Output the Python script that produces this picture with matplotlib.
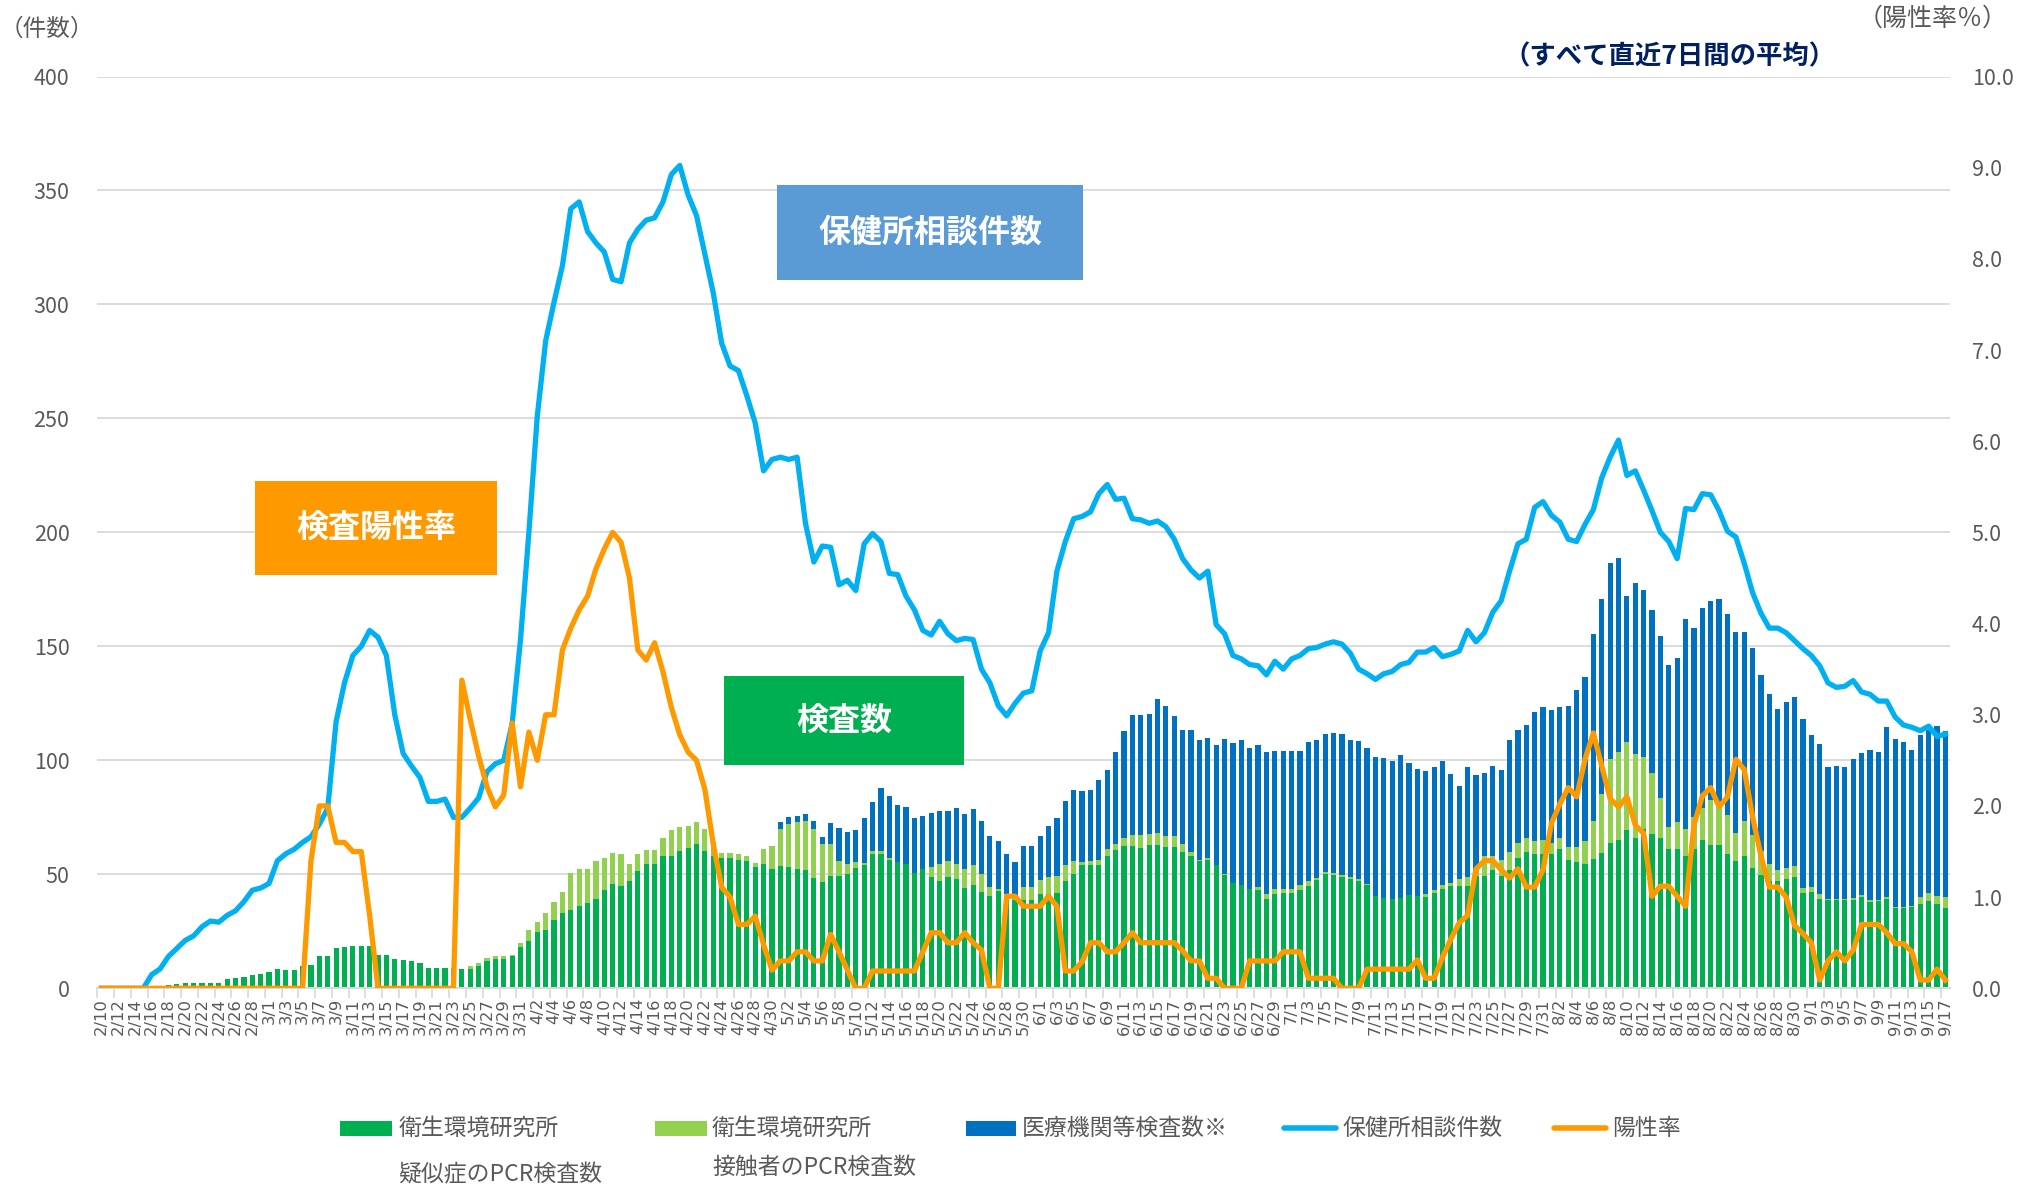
import numpy as np
import pandas as pd
import matplotlib
matplotlib.use("Agg")
import matplotlib.pyplot as plt
from matplotlib.patches import Rectangle
from matplotlib.lines import Line2D

plt.rcParams['font.family'] = ['Noto Sans CJK JP', 'DejaVu Sans']

# ---------------- data ----------------
dates = pd.date_range("2020-02-10", "2020-09-17", freq="D")
date_labels = [f"{d.month}/{d.day}" for d in dates]

# 保健所相談件数 (left axis)
consult = [
    0, 0, 0, 0, 0, 0, 6, 8.5, 14, 17.5,
    21, 23, 27, 29.5, 29, 32, 34, 38, 43, 44,
    46, 56, 59, 61, 64, 66.5, 72, 79, 117, 134,
    146, 150, 157, 154, 146, 120, 103, 97.5, 92.5, 82,
    82, 83, 75, 75, 79, 83.5, 95, 98.5, 100, 116,
    153, 200, 251, 284, 301, 317, 342, 345, 332, 327,
    323, 311, 310, 327, 333, 337, 338, 345, 357, 361,
    348, 339, 322, 305, 283, 273, 271, 260, 248, 227,
    232, 233, 232, 233, 204, 187, 194, 193.5, 177, 179,
    174.5, 195, 199.5, 196, 182, 181.5, 172, 166, 157, 155,
    161, 155.5, 152.5, 153.5, 153, 140, 134, 124, 119.5, 125,
    129.5, 130.5, 148, 156, 183, 196, 206, 207, 209, 217,
    221, 214.5, 215, 206, 205.5, 204, 205, 202.5, 197, 188.5,
    183.5, 180, 183, 159.5, 155.5, 146, 144.5, 142, 141.5, 137.5,
    143.5, 140, 144.5, 146, 149, 149.5, 151, 152, 151, 147,
    140, 138, 135.5, 138, 139, 142, 143, 147.5, 147.5, 149.5,
    145.5, 146.5, 148, 157, 152, 156, 165, 170, 183, 195,
    197, 211, 213.5, 207.5, 204.5, 197, 196, 203.5, 210, 224,
    233, 240.5, 225, 227, 218.5, 209.5, 200, 196, 188.5, 210.5,
    210, 217, 216.5, 209.5, 200.5, 198, 186.5, 173.5, 164.5, 158,
    158, 156, 152.5, 149, 146, 141.5, 134, 132, 132.5, 135,
    130, 129, 126, 126, 119, 115.5, 114.5, 113, 115, 110.5,
    111.5,
]

# 陽性率 (%) (right axis)
positive = [
    0, 0, 0, 0, 0, 0, 0, 0, 0, 0,
    0, 0, 0, 0, 0, 0, 0, 0, 0, 0,
    0, 0, 0, 0, 0, 1.4, 2.0, 2.0, 1.6, 1.6,
    1.5, 1.5, 0.8, 0, 0, 0, 0, 0, 0, 0,
    0, 0, 0, 3.38, 2.95, 2.55, 2.21, 1.99, 2.12, 2.91,
    2.21, 2.81, 2.5, 3.0, 3.0, 3.71, 3.95, 4.15, 4.3, 4.6,
    4.82, 5.0, 4.89, 4.5, 3.71, 3.6, 3.79, 3.47, 3.08, 2.78,
    2.59, 2.5, 2.18, 1.58, 1.11, 1.0, 0.7, 0.7, 0.79, 0.48,
    0.2, 0.3, 0.3, 0.4, 0.4, 0.3, 0.3, 0.59, 0.4, 0.2,
    0, 0, 0.19, 0.19, 0.19, 0.19, 0.19, 0.19, 0.4, 0.61,
    0.61, 0.5, 0.5, 0.61, 0.5, 0.42, 0, 0, 1.01, 1.01,
    0.9, 0.9, 0.9, 1.01, 0.9, 0.19, 0.19, 0.29, 0.5, 0.5,
    0.4, 0.4, 0.5, 0.61, 0.5, 0.5, 0.5, 0.5, 0.5, 0.41,
    0.3, 0.3, 0.11, 0.11, 0, 0, 0, 0.3, 0.3, 0.3,
    0.3, 0.4, 0.4, 0.4, 0.11, 0.11, 0.11, 0.11, 0, 0,
    0, 0.21, 0.21, 0.21, 0.21, 0.21, 0.21, 0.31, 0.11, 0.11,
    0.34, 0.54, 0.72, 0.8, 1.31, 1.4, 1.4, 1.3, 1.21, 1.31,
    1.11, 1.11, 1.3, 1.81, 2.02, 2.2, 2.1, 2.51, 2.8, 2.44,
    2.08, 1.99, 2.1, 1.79, 1.7, 1.01, 1.12, 1.12, 1.01, 0.9,
    1.79, 2.11, 2.2, 1.99, 2.1, 2.51, 2.4, 1.88, 1.45, 1.11,
    1.11, 1.0, 0.69, 0.6, 0.5, 0.09, 0.3, 0.4, 0.3, 0.42,
    0.7, 0.7, 0.7, 0.61, 0.49, 0.49, 0.4, 0.09, 0.09, 0.21,
    0.09,
]

# 衛生環境研究所 疑似症のPCR検査数
suspect_pcr = [
    0, 0, 0, 0, 0, 0, 0, 0.5, 1.3, 2,
    2.2, 2.5, 2.5, 2.5, 2.2, 3.9, 4.7, 5, 5.9, 6.4,
    7, 8.4, 8, 7.9, 9.6, 10.4, 14, 14.3, 17.7, 18,
    18.5, 18.5, 18.5, 14.8, 14.8, 13, 12.6, 12.1, 11.3, 9.1,
    9.1, 9.1, 9.0, 8.3, 8.3, 9.8, 12, 12.9, 12.9, 14.1,
    17.9, 20.9, 24.7, 25.5, 29.8, 33, 34.3, 36, 37.6, 39.3,
    43, 45.6, 44.9, 46.9, 51.4, 54.5, 54.5, 58.2, 58.2, 60.3,
    61.5, 63.3, 60.3, 58.2, 57, 57, 56.5, 55.7, 53.2, 54.5,
    52.4, 53.7, 53.2, 52.5, 51.9, 48.3, 46.8, 49.3, 49.2, 50,
    52.7, 53.9, 58.9, 58.9, 56.4, 55.6, 54.7, 50.5, 52.2, 48.8,
    47.1, 48.8, 48, 43.8, 45.5, 42.1, 40.4, 42.9, 40.4, 38.7,
    38.7, 38.7, 41.2, 41.2, 42, 47.1, 50, 54.2, 53.9, 53.9,
    58.1, 60.6, 62.3, 62.3, 61.4, 62.7, 62.7, 61.8, 61.8, 60,
    58.2, 55.9, 56.5, 54.1, 49.8, 46.1, 45.3, 43.4, 43, 39,
    41.2, 41.6, 41.6, 43, 44.8, 47.5, 50.2, 49.8, 48.9, 48,
    47, 45.2, 40.7, 39.8, 39, 39.4, 40.9, 40.3, 40, 41.6,
    43.5, 44.8, 44.8, 44.8, 49.3, 49.3, 52, 49.3, 52, 57,
    60, 58.8, 59.1, 59.1, 60.9, 56.5, 55.2, 54.7, 56.8, 59.5,
    63.6, 64.9, 69.5, 66, 69.9, 67.6, 65.8, 61.3, 60.9, 58.2,
    61, 65, 63, 62.7, 59.1, 55.9, 58.2, 52.8, 49.6, 47.2,
    47.2, 47.8, 49, 42, 42.4, 39.2, 38.8, 38.8, 38.8, 38.6,
    40.2, 37.9, 38.2, 39.1, 35.3, 35.2, 35.6, 36.8, 38.3, 37.1,
    35.3,
]

# 衛生環境研究所 接触者のPCR検査数
contact_pcr = [0] * 44 + [
    1.3, 1.2, 1.4, 1.2, 1.2, 0.5,
    1.8, 4.6, 4.5, 7.5, 8.2, 9.4, 16.4, 16.4, 14.8, 16.4,
    14, 13.9, 13.8, 7.6, 7.3, 6.3, 6.3, 7.6, 11.4, 10.6,
    9.9, 9.6, 9.8, 5.8, 2.5, 2.5, 2.5, 2.5, 1.8, 6.8,
    10.1, 16.3, 18.8, 20.4, 21.3, 21.6, 16.3, 14.2, 6.7, 4.5,
    2.9, 1.1, 1.2, 1.2, 0.8, 0, 0, 0, 0, 4.2,
    7.6, 7.1, 6.7, 8.4, 8.4, 8.1, 4.2, 0.5, 1.0, 1.5,
    5.9, 5.9, 6.3, 7.6, 7.2, 6.8, 5.9, 1.4, 2, 2.5,
    2.8, 2.5, 3.7, 5, 5.9, 4.9, 5.4, 4.9, 4.9, 3.3,
    1.5, 0.6, 0.8, 0, 0.4, 0, 0, 0, 1.4, 2.2,
    2.3, 1.9, 1.9, 2.2, 2.2, 0.9, 0.9, 0.7, 0.7, 0.7,
    1, 0.5, 0, 0, 0, 0, 0, 0, 1.2, 1.4,
    1.7, 1.2, 3.2, 3.9, 2.7, 8.9, 6.2, 7.2, 8, 6.6,
    6, 5.7, 5.8, 4.5, 5.1, 5.3, 6.6, 9.8, 16.7, 25.6,
    37.1, 38.7, 38.4, 37, 31.7, 27, 17.5, 9.5, 12.2, 11.7,
    14.3, 13.9, 19.4, 17, 17.1, 12.2, 15.3, 14.5, 10.8, 7.4,
    4.9, 4.8, 4.6, 2, 2, 2, 0.4, 0.4, 0.5, 0.8,
    0.7, 0.7, 0.4, 1.1, 0.3, 0.4, 0.5, 3.4, 3.7, 3.4,
    4.9,
]

# 医療機関等検査数※
medical = [0] * 81 + [
    2.9, 3, 2.8, 3.4, 3.3, 3.1, 9.2, 14.5, 13.9,
    13.8, 19.9, 21.5, 27.8, 27, 24.7, 24.8, 24.4, 23.6, 23.9,
    23.1, 22, 24.4, 24.4, 24.7, 23, 22.2, 21.4, 17.5, 15.4,
    18, 18, 19.5, 22.2, 25.7, 28.3, 31.3, 31.1, 31.1, 34.8,
    34.7, 40.4, 46.8, 52.6, 52.5, 52.6, 58.8, 57, 52.8, 50.1,
    53.7, 52.5, 52.4, 52.5, 59.1, 61.4, 63.7, 62, 62.2, 62.4,
    60.4, 60.4, 60.8, 59.1, 60.9, 60.6, 60.5, 61.5, 62, 60.3,
    60.4, 59.5, 60.9, 61.1, 60.8, 63.1, 58, 55.9, 54.3, 54.1,
    54.6, 48.1, 40.7, 48.6, 41.5, 36.4, 39.5, 39.4, 49, 49.7,
    49.6, 56.5, 58.4, 58.3, 57.3, 62.2, 69, 72.2, 82.1, 85.5,
    86, 85.1, 64.1, 75, 73.1, 71.5, 71.2, 71.1, 71.7, 92.3,
    82.9, 88.1, 87.3, 91.1, 88.1, 88.2, 82.8, 82.2, 77, 74.3,
    70.3, 73, 74.4, 74, 66.8, 65.9, 57.8, 58.5, 57.7, 61.4,
    62.4, 65.9, 64.9, 74.5, 73.9, 72.3, 68.4, 70.8, 71.2, 74.7,
    72.7,
]

series_names = ["衛生環境研究所", "衛生環境研究所", "医療機関等検査数※", "保健所相談件数", "陽性率"]
series_sub = ["疑似症のPCR検査数", "接触者のPCR検査数"]

# ---------------- style ----------------
C_DARK = "#00b050"
C_LIGHT = "#92d050"
C_MED = "#0070c0"
C_CONS = "#00b0f0"
C_POS = "#ff9900"
GRAY = "#595959"
GRID = "#d9d9d9"

fig = plt.figure(figsize=(20.34, 11.88), dpi=100)
ax = fig.add_axes([0.0478, 0.1681, 0.9107, 0.7675])
ax2 = ax.twinx()

x = np.arange(len(dates))
s = np.array(suspect_pcr)
c = np.array(contact_pcr)
m = np.array(medical)

w = 0.62
ax.bar(x, s, width=w, color=C_DARK, zorder=2)
ax.bar(x, c, width=w, bottom=s, color=C_LIGHT, zorder=2)
ax.bar(x, m, width=w, bottom=s + c, color=C_MED, zorder=2)
ax.plot(x, consult, color=C_CONS, lw=3.8, solid_joinstyle="round", zorder=3)
ax2.plot(x, positive, color=C_POS, lw=3.8, solid_joinstyle="round", zorder=3)

ax.set_xlim(-0.5, len(dates) - 0.5)
ax.set_ylim(0, 400)
ax2.set_ylim(0, 10)

ax.set_yticks(np.arange(0, 401, 50))
ax.set_yticklabels([f"{v}" for v in range(0, 401, 50)])
ax2.set_yticks(np.arange(0, 10.1, 1))
ax2.set_yticklabels([f"{v:.1f}" for v in np.arange(0, 10.1, 1)])
ax.tick_params(axis="y", length=0, pad=20, labelsize=15.5, labelcolor=GRAY)
ax2.tick_params(axis="y", length=0, pad=16, labelsize=15.5, labelcolor=GRAY)

ax.set_xticks(x[::2])
ax.set_xticklabels(date_labels[::2], rotation=90, fontsize=11.8, color=GRAY,
                   family="DejaVu Sans")
ax.set_xticks(np.arange(-0.5, len(dates), 2), minor=True)
ax.tick_params(axis="x", which="major", length=0, pad=7)
ax.tick_params(axis="x", which="minor", length=7, color=GRID, width=1.2)

ax.yaxis.grid(True, color=GRID, lw=1.3, zorder=0)
ax.set_axisbelow(True)
for a in (ax, ax2):
    for sp in ("top", "left", "right"):
        a.spines[sp].set_visible(False)
    a.spines["bottom"].set_color(GRID)
    a.spines["bottom"].set_linewidth(1.3)

# ---------------- annotation boxes ----------------
def box(x0, y0, x1, y1, color, text):
    fig.patches.append(Rectangle((x0, y0), x1 - x0, y1 - y0, transform=fig.transFigure,
                                 facecolor=color, edgecolor="none", zorder=5))
    fig.text((x0 + x1) / 2, (y0 + y1) / 2, text, color="white", fontsize=23,
             fontweight="bold", ha="center", va="center", zorder=6)

box(0.382, 0.7642, 0.5325, 0.8439, "#5b9bd5", "保健所相談件数")
box(0.1256, 0.5164, 0.2443, 0.595, C_POS, "検査陽性率")
box(0.3559, 0.3559, 0.4739, 0.4312, C_DARK, "検査数")

fig.text(0.821, 0.952, "（すべて直近7日間の平均）", color="#002060", fontsize=19,
         fontweight="bold", ha="center", va="center")
fig.text(0.023, 0.975, "（件数）", color=GRAY, fontsize=17, ha="center", va="center")
fig.text(0.950, 0.984, "（陽性率％）", color=GRAY, fontsize=18, ha="center", va="center")

# ---------------- legend ----------------
ly = 0.0502
lh = 0.0131
patches = [(0.1671, 0.1926, C_DARK), (0.3221, 0.3476, C_LIGHT), (0.4751, 0.4994, C_MED)]
for x0, x1, col in patches:
    fig.patches.append(Rectangle((x0, ly - lh / 2), x1 - x0, lh, transform=fig.transFigure,
                                 facecolor=col, edgecolor="none"))
for x0, x1, col in [(0.6314, 0.6569, C_CONS), (0.764, 0.7895, C_POS)]:
    fig.add_artist(Line2D([x0, x1], [ly, ly], transform=fig.transFigure, color=col,
                          lw=4, solid_capstyle="round"))

lx = [0.1958, 0.3501, 0.5026, 0.6601, 0.7927]
for xx, name in zip(lx, series_names):
    fig.text(xx, ly, name, color=GRAY, fontsize=16.5, ha="left", va="center")
fig.text(lx[0], 0.0109, series_sub[0], color=GRAY, fontsize=16.5, ha="left", va="center")
fig.text(lx[1], 0.0175, series_sub[1], color=GRAY, fontsize=16.5, ha="left", va="center")

fig.savefig("out.png", dpi=100, facecolor="white")
